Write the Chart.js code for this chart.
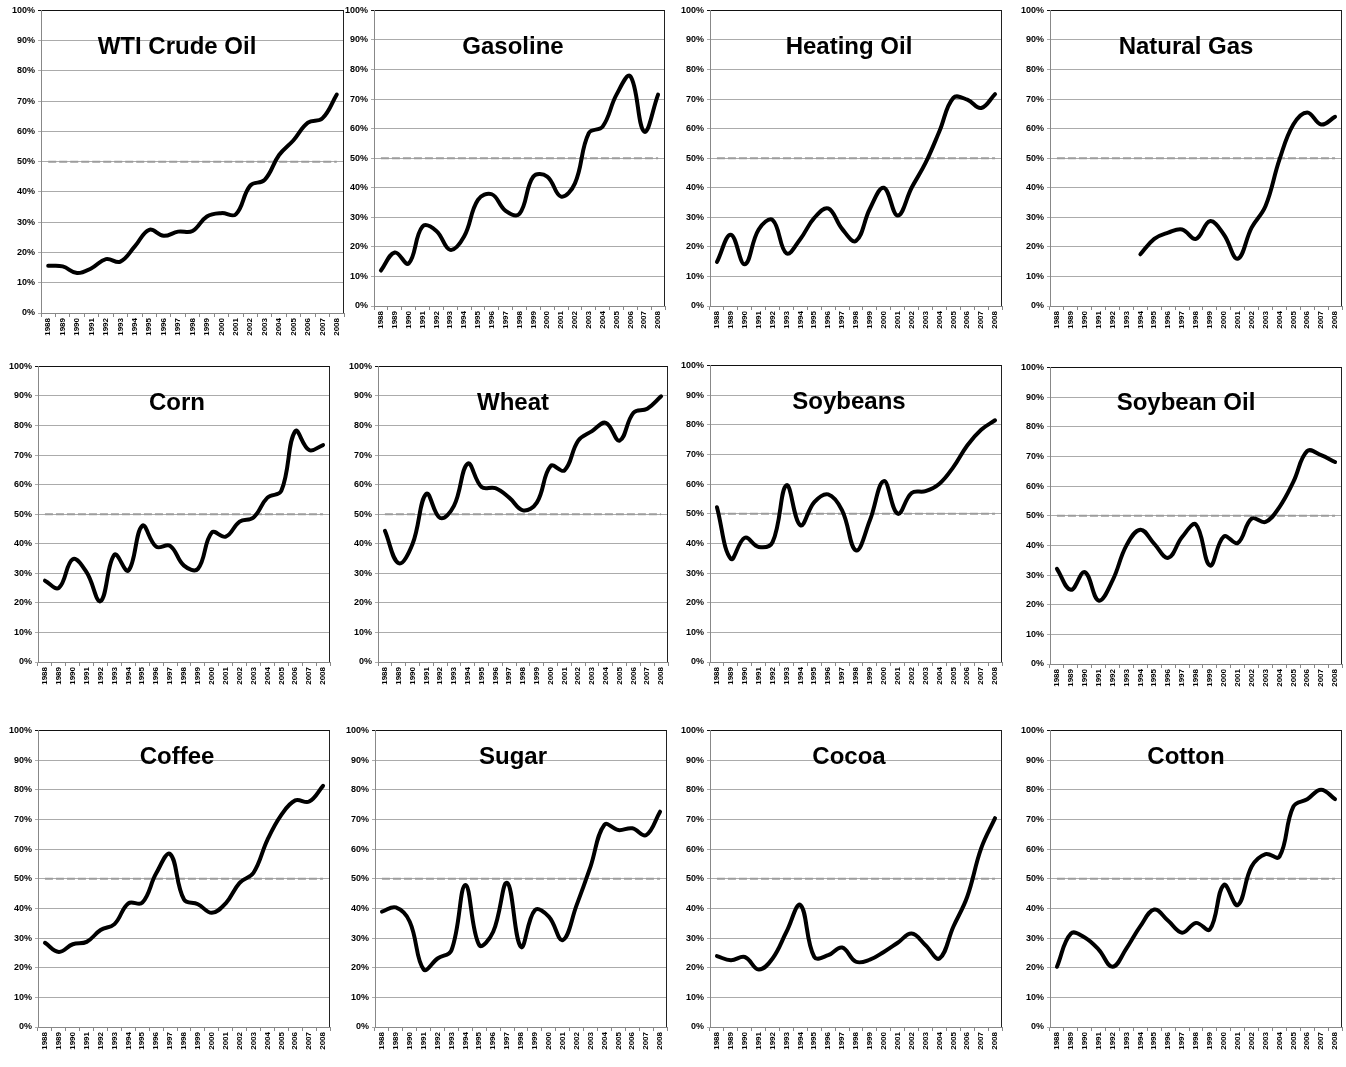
<!DOCTYPE html>
<html><head><meta charset="utf-8">
<script src="https://cdn.jsdelivr.net/npm/chart.js@4.4.1/dist/chart.umd.min.js"></script>
<style>
html,body{margin:0;padding:0;background:#fff;}
body{width:1346px;height:1067px;position:relative;overflow:hidden;}
canvas{position:absolute;}
</style></head><body>
<script>
// ---------- DATA ----------
const years = ['1988','1989','1990','1991','1992','1993','1994','1995','1996','1997','1998','1999','2000','2001','2002','2003','2004','2005','2006','2007','2008'];
const yTickValues = [0,10,20,30,40,50,60,70,80,90,100];
const titles = ['WTI Crude Oil','Gasoline','Heating Oil','Natural Gas','Corn','Wheat','Soybeans','Soybean Oil','Coffee','Sugar','Cocoa','Cotton'];
const fiftyLine = [50,50,50,50,50,50,50,50,50,50,50,50,50,50,50,50,50,50,50,50,50];

const wti        = [15.6,15.4,13.2,14.8,17.8,17.0,22.0,27.5,25.5,26.9,27.1,31.9,33.0,32.6,42.1,44.0,52.2,57.1,62.9,64.3,72.2];
const gasoline   = [12.0,18.1,14.4,26.9,25.4,19.0,23.5,35.9,37.8,32.2,31.2,43.8,43.8,37.0,41.5,58.5,60.7,71.5,77.7,59.0,71.5];
const heatingOil = [14.9,24.1,14.1,25.9,29.1,17.8,22.7,29.8,33.0,26.1,22.0,32.9,40.0,30.6,40.0,48.4,59.1,70.4,69.8,67.0,71.7];
const naturalGas = [null,null,null,null,null,null,17.5,22.7,24.8,25.9,22.7,28.7,24.2,16.0,26.5,33.8,49.5,61.4,65.5,61.4,64.0];
const corn       = [27.5,25.1,34.8,30.3,20.6,36.3,30.9,46.1,39.0,39.3,32.6,31.5,43.8,42.4,47.5,48.9,55.6,57.9,78.1,71.7,73.4];
const wheat      = [44.4,33.4,39.9,56.9,48.7,52.8,67.1,59.2,58.8,55.6,51.3,53.9,66.3,64.8,74.9,78.1,80.9,74.9,84.3,85.7,89.9];
const soybeans   = [52.2,34.8,41.9,38.8,40.4,59.6,46.1,53.9,56.5,51.1,37.6,47.8,61.0,50.0,57.0,57.6,60.1,65.7,73.0,78.3,81.5];
const soybeanOil = [32.1,25.0,31.0,21.4,28.2,40.0,45.3,40.5,35.8,42.8,47.0,33.2,43.0,40.8,49.0,47.9,52.9,61.4,71.8,70.4,68.1];
const coffee     = [28.4,25.3,27.9,28.7,32.7,34.7,41.7,41.9,51.8,58.3,43.0,41.4,38.5,41.7,48.6,52.0,63.1,71.5,76.4,76.0,81.3];
const sugar      = [38.9,40.3,35.5,19.4,23.1,25.9,47.9,27.6,32.1,48.6,27.0,39.4,37.2,29.3,41.1,54.1,68.2,66.4,67.0,64.7,72.6];
const cocoa      = [23.9,22.5,23.6,19.4,23.1,32.1,41.1,23.6,24.2,26.8,22.0,22.7,25.3,28.4,31.5,27.6,23.1,33.8,43.9,60.2,70.4];
const cotton     = [20.3,31.5,30.2,26.1,20.3,26.5,34.0,39.6,35.8,31.8,35.1,32.9,47.9,41.1,54.1,58.3,57.4,74.3,76.8,80.0,76.8];

const seriesList = [wti,gasoline,heatingOil,naturalGas,corn,wheat,soybeans,soybeanOil,coffee,sugar,cocoa,cotton];

// ---------- LAYOUT (plot-area boxes & title offsets) ----------
const boxes = [
  {l:41,r:344,t:10,b:313,ty:37},{l:374,r:665,t:10,b:306,ty:37},{l:710,r:1002,t:10,b:306,ty:37},{l:1050,r:1342,t:10,b:306,ty:37},
  {l:38,r:330,t:366,b:662,ty:37},{l:378,r:668,t:366,b:662,ty:37},{l:710,r:1002,t:365,b:662,ty:37},{l:1050,r:1342,t:367,b:664,ty:36},
  {l:38,r:330,t:730,b:1027,ty:27},{l:375,r:667,t:730,b:1027,ty:27},{l:710,r:1002,t:730,b:1027,ty:27},{l:1050,r:1342,t:730,b:1027,ty:27}
];
const titleCenters = [177,513,849,1186];

const Y_W = 40, PAD_T = 8, PAD_R = 4, X_H = 30;
const FONT = '"Liberation Sans", Arial, Helvetica, sans-serif';

const framePlugin = {
  id:'frame',
  beforeDatasetsDraw(chart){
    const a = chart.chartArea, ctx = chart.ctx;
    ctx.save();
    ctx.strokeStyle = '#222';
    ctx.lineWidth = 1;
    ctx.beginPath();
    const x = Math.round(a.right) - 0.5;
    ctx.moveTo(x, a.top);
    ctx.lineTo(x, a.bottom);
    ctx.stroke();
    ctx.restore();
  }
};
const titlePlugin = {
  id:'panelTitle',
  afterDatasetsDraw(chart, args, opts){
    const a = chart.chartArea, ctx = chart.ctx;
    ctx.save();
    ctx.font = 'bold 24px ' + FONT;
    ctx.fillStyle = '#000';
    ctx.textAlign = 'center';
    ctx.textBaseline = 'middle';
    ctx.fillText(opts.text, opts.cx, a.top + opts.dy);
    ctx.restore();
  }
};

boxes.forEach((p, i) => {
  const c = document.createElement('canvas');
  const w = p.r - p.l + Y_W + PAD_R;
  const h = p.b - p.t + PAD_T + X_H;
  const left = p.l - Y_W, top = p.t - PAD_T;
  c.width = w; c.height = h;
  c.style.left = left + 'px'; c.style.top = top + 'px';
  c.style.width = w + 'px'; c.style.height = h + 'px';
  document.body.appendChild(c);
  new Chart(c, {
    type:'line',
    data:{
      labels: years,
      datasets:[
        {data: seriesList[i], borderColor:'#000', borderWidth:4, pointRadius:0, tension:0.4,
         spanGaps:false, borderCapStyle:'round', borderJoinStyle:'round', order:0},
        {data: fiftyLine, borderColor:'#9c9c9c', borderWidth:2, borderDash:[8,3], pointRadius:0, tension:0, order:1}
      ]
    },
    options:{
      responsive:false, animation:false, devicePixelRatio:1,
      events:[],
      layout:{padding:{top:PAD_T, right:PAD_R, left:0, bottom:0}},
      plugins:{
        legend:{display:false}, tooltip:{enabled:false},
        panelTitle:{text: titles[i], cx: titleCenters[i % 4] - left, dy: p.ty}
      },
      scales:{
        x:{
          offset:true,
          grid:{offset:true, drawOnChartArea:false, tickLength:4, color:'#888'},
          border:{color:'#888', width:1},
          ticks:{minRotation:90, maxRotation:90, autoSkip:false, padding:1, color:'#000',
                 font:{family:FONT, size:8, weight:'bold'}},
          afterFit(s){ s.height = X_H; }
        },
        y:{
          min:0, max:100,
          afterBuildTicks(s){ s.ticks = yTickValues.map(v => ({value:v})); },
          ticks:{callback: v => v + '%', padding:3, color:'#000',
                 font:{family:FONT, size:9, weight:'bold'}},
          grid:{color: ctx => (ctx.tick && ctx.tick.value === 100) ? '#111' : '#ababab', lineWidth:1, tickLength:3},
          border:{color:'#888', width:1},
          afterFit(s){ s.width = Y_W; }
        }
      }
    },
    plugins:[framePlugin, titlePlugin]
  });
});
</script>
</body></html>
